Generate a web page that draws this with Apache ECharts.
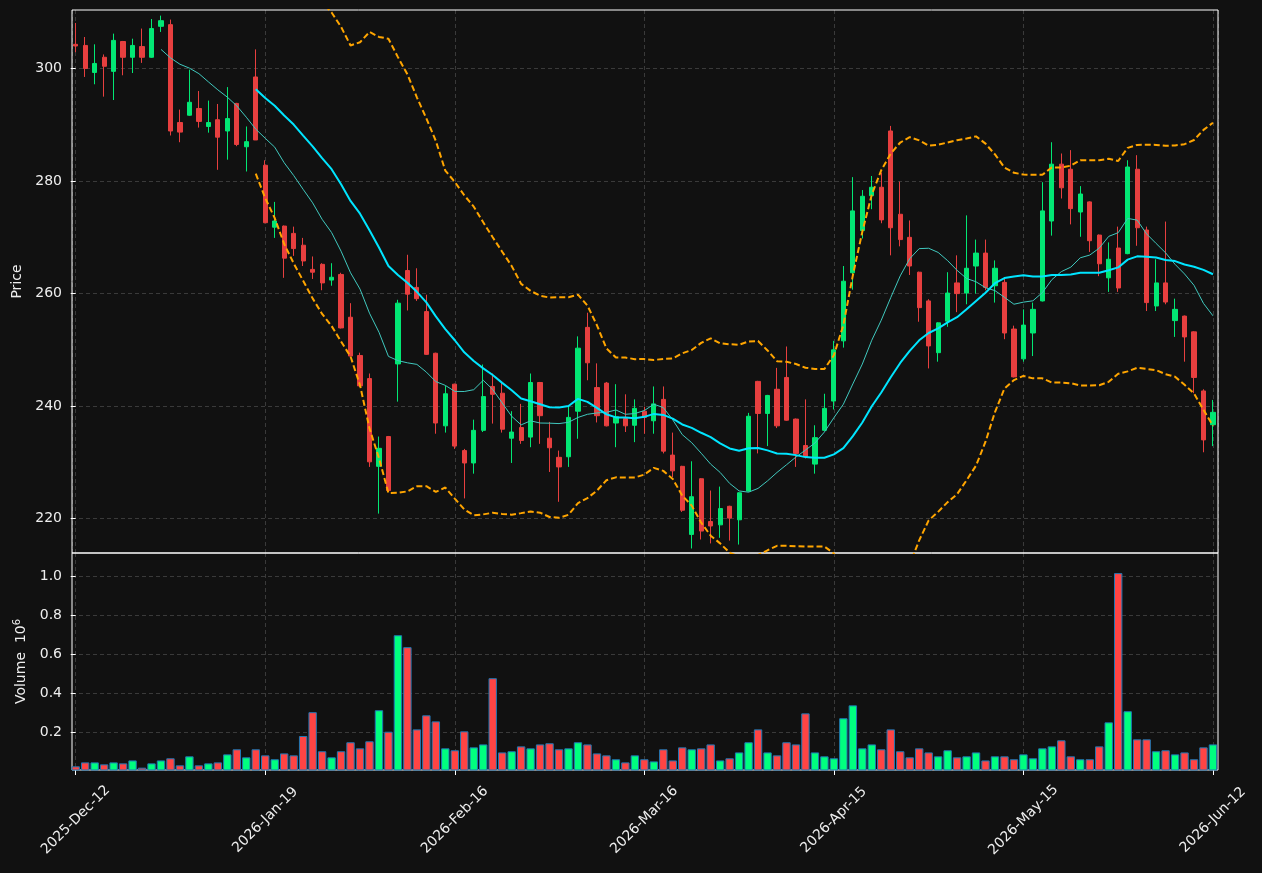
<!DOCTYPE html>
<html><head><meta charset="utf-8">
<script src="https://cdn.jsdelivr.net/npm/echarts@6/dist/echarts.min.js"></script>
<style>html,body{margin:0;padding:0;background:#111111;}#chart{width:1262px;height:873px;}</style>
</head><body><div id="chart"></div>
<script>
// x tick positions (candle index) and their labels
const tickIndex = [0, 20, 40, 60, 80, 100, 120];
const tickLabels = ['2025-Dec-12', '2026-Jan-19', '2026-Feb-16', '2026-Mar-16', '2026-Apr-15', '2026-May-15', '2026-Jun-12'];
const priceTicks = [220, 240, 260, 280, 300];
const volumeTicks = [200000, 400000, 600000, 800000, 1000000];

const opens = [
  304.3, 304.1, 299.3, 302.0, 299.5, 304.8, 302.0, 303.9, 302.0, 307.5,
  307.8, 290.4, 291.7, 292.9, 289.7, 290.9, 288.9, 293.8, 286.1, 298.5,
  282.8, 271.8, 272.0, 270.7, 268.6, 264.3, 265.2, 262.4, 263.4, 255.8,
  249.0, 244.9, 229.3, 234.6, 247.5, 264.1, 261.1, 256.8, 249.4, 236.5,
  243.9, 232.1, 229.9, 235.7, 243.5, 242.3, 234.3, 236.2, 234.5, 244.2,
  234.3, 230.9, 231.0, 239.1, 254.0, 243.3, 244.1, 237.0, 237.8, 236.6,
  239.1, 237.4, 241.2, 231.3, 229.3, 217.2, 227.1, 219.5, 218.9, 222.2,
  219.8, 224.9, 244.4, 238.7, 243.0, 245.1, 237.7, 233.0, 229.7, 235.7,
  240.9, 251.6, 263.7, 271.2, 277.4, 278.9, 288.9, 274.1, 270.0, 263.8,
  258.7, 249.5, 255.1, 261.9, 260.1, 264.9, 267.2, 261.4, 262.0, 253.7,
  248.4, 253.0, 258.7, 272.9, 283.0, 282.1, 274.5, 276.3, 270.4, 262.8,
  268.1, 267.1, 282.1, 271.3, 257.8, 261.9, 255.2, 256.0, 253.2, 242.7,
  236.7
];
const highs = [
  308.1, 305.6, 304.3, 302.5, 306.2, 304.9, 305.3, 307.1, 308.8, 309.4,
  308.7, 292.7, 299.8, 296.0, 294.3, 293.7, 296.7, 293.9, 289.7, 303.4,
  283.7, 276.3, 272.1, 271.9, 269.9, 266.6, 265.4, 265.4, 263.7, 258.3,
  249.5, 245.8, 234.6, 234.7, 258.9, 266.9, 264.5, 259.8, 249.5, 243.6,
  244.0, 232.4, 237.6, 247.4, 245.8, 244.1, 239.1, 240.4, 245.8, 244.3,
  237.2, 232.1, 240.1, 252.4, 256.6, 247.6, 244.3, 243.9, 242.1, 241.2,
  239.9, 243.5, 243.5, 235.3, 229.4, 230.2, 227.2, 225.0, 225.7, 222.3,
  224.7, 238.8, 244.5, 242.0, 246.8, 250.6, 237.8, 241.2, 236.6, 242.2,
  251.6, 264.9, 280.7, 278.4, 280.9, 281.5, 289.8, 279.9, 273.0, 263.9,
  259.0, 254.9, 263.8, 266.8, 273.9, 269.6, 269.6, 265.9, 262.7, 254.3,
  257.2, 258.4, 279.8, 286.9, 284.9, 285.5, 279.1, 276.4, 270.5, 269.1,
  271.9, 283.7, 284.6, 271.9, 266.1, 272.8, 259.1, 256.1, 253.3, 243.0,
  241.1
];
const lows = [
  302.9, 298.5, 297.2, 295.0, 294.4, 298.8, 299.2, 301.0, 301.9, 306.5,
  288.1, 286.9, 291.6, 289.5, 288.6, 282.0, 283.8, 286.2, 281.7, 287.3,
  272.5, 269.9, 262.8, 266.7, 264.9, 262.6, 260.6, 261.4, 253.8, 248.8,
  243.4, 229.2, 220.9, 224.9, 240.8, 257.0, 258.7, 249.1, 235.1, 235.3,
  232.4, 223.6, 228.0, 235.4, 236.9, 235.3, 229.9, 233.3, 232.7, 233.3,
  228.3, 223.0, 229.2, 234.2, 244.6, 237.1, 236.4, 232.7, 235.4, 233.6,
  235.1, 235.1, 231.6, 227.4, 221.2, 214.7, 216.3, 215.6, 216.6, 216.1,
  215.4, 224.8, 231.6, 232.9, 236.1, 237.4, 229.2, 230.7, 228.0, 235.6,
  239.4, 250.4, 260.7, 269.8, 275.0, 272.5, 266.8, 268.4, 263.3, 255.0,
  246.7, 247.9, 254.1, 256.7, 258.1, 260.0, 260.6, 258.4, 251.9, 245.1,
  247.9, 248.9, 258.6, 270.3, 276.9, 272.3, 270.1, 267.4, 263.1, 260.3,
  260.3, 267.0, 268.5, 256.9, 256.9, 258.1, 252.3, 247.9, 242.3, 231.8,
  232.9
];
const closes = [
  304.0, 300.0, 300.9, 300.4, 305.0, 302.0, 304.1, 302.0, 307.1, 308.5,
  288.9, 288.7, 294.0, 290.6, 290.4, 287.8, 291.1, 286.5, 287.0, 287.3,
  272.6, 272.9, 266.3, 268.0, 265.8, 263.8, 261.9, 262.9, 253.9, 248.9,
  243.6, 230.1, 232.5, 225.0, 258.3, 259.9, 259.1, 249.2, 237.0, 242.2,
  232.9, 229.9, 235.7, 241.7, 242.1, 235.9, 235.4, 233.9, 244.2, 238.3,
  232.6, 229.2, 238.0, 250.3, 247.7, 238.3, 236.5, 238.1, 236.5, 239.6,
  238.0, 240.4, 232.0, 228.5, 221.5, 223.9, 217.8, 218.7, 221.8, 220.1,
  224.6, 238.2, 238.7, 241.9, 236.5, 237.5, 231.6, 231.0, 234.4, 239.6,
  250.0, 262.2, 274.7, 277.3, 278.9, 273.1, 271.7, 269.6, 264.9, 257.5,
  250.7, 254.8, 260.1, 260.0, 264.5, 267.2, 261.1, 264.5, 253.0, 245.2,
  254.4, 257.2, 274.7, 283.0, 278.8, 275.1, 277.7, 269.4, 265.3, 266.1,
  261.0, 282.5, 271.7, 258.4, 261.9, 258.5, 257.2, 252.3, 245.1, 234.0,
  238.9
];
const volumes = [
  26000, 46000, 46000, 36000, 46000, 41000, 56000, 19000, 41000, 56000,
  67000, 31000, 77000, 31000, 41000, 46000, 87000, 113000, 72000, 113000,
  82000, 62000, 92000, 82000, 181000, 303000, 103000, 72000, 103000, 149000,
  118000, 154000, 313000, 203000, 697000, 636000, 215000, 287000, 256000, 118000,
  108000, 205000, 123000, 138000, 477000, 97000, 103000, 128000, 118000, 138000,
  144000, 113000, 118000, 149000, 138000, 92000, 82000, 62000, 46000, 82000,
  62000, 51000, 113000, 56000, 123000, 113000, 118000, 138000, 56000, 67000,
  97000, 149000, 215000, 97000, 82000, 149000, 138000, 297000, 97000, 77000,
  67000, 272000, 338000, 118000, 138000, 113000, 215000, 103000, 72000, 118000,
  97000, 77000, 108000, 72000, 77000, 97000, 56000, 77000, 77000, 62000,
  87000, 67000, 118000, 128000, 159000, 77000, 62000, 62000, 128000, 251000,
  1015000, 308000, 164000, 164000, 103000, 108000, 87000, 97000, 62000, 123000,
  138000
];

// indicators derived from the closes (moving averages and Bollinger bands)
function movingAverage(values, n) {
  const out = [];
  for (let i = n - 1; i < values.length; i++) {
    let s = 0;
    for (let j = i - n + 1; j <= i; j++) s += values[j];
    out.push([i, s / n]);
  }
  return out;
}
function bollinger(values, n, k) {
  const upper = [], lower = [];
  for (let i = n - 1; i < values.length; i++) {
    let s = 0;
    for (let j = i - n + 1; j <= i; j++) s += values[j];
    const m = s / n;
    let v = 0;
    for (let j = i - n + 1; j <= i; j++) v += (values[j] - m) * (values[j] - m);
    const sd = Math.sqrt(v / n);
    upper.push([i, m + k * sd]);
    lower.push([i, m - k * sd]);
  }
  return { upper, lower };
}

const ma10 = movingAverage(closes, 10);
const ma20 = movingAverage(closes, 20);
const bb = bollinger(closes, 20, 2);

const UP = '#02e774', DOWN = '#e73f3f';
const VUP = '#00ff7f', VDOWN = '#ff4444';
const FONT = 'DejaVu Sans';
const TXT = '#eeeeee';
const gridLine = { show: true, lineStyle: { color: '#3a3a3a', width: 1, type: [4, 3] } };

const candleData = closes.map((c, i) => [i, opens[i], c, lows[i], highs[i]]);
const volumeData = volumes.map((v, i) => ({
  value: [i, v],
  itemStyle: { color: closes[i] >= opens[i] ? VUP : VDOWN }
}));

const chart = echarts.init(document.getElementById('chart'), null, { renderer: 'canvas' });
chart.setOption({
  backgroundColor: '#111111',
  animation: false,
  textStyle: { fontFamily: FONT },
  grid: [
    { left: 72, width: 1146, top: 10, height: 543, show: true, z: 1, outerBoundsMode: 'none', containLabel: false,
      borderColor: '#ffffff', borderWidth: 1, backgroundColor: 'transparent' },
    { left: 72, width: 1146, top: 553, height: 217, show: true, z: 1, outerBoundsMode: 'none', containLabel: false,
      borderColor: '#ffffff', borderWidth: 1, backgroundColor: 'transparent' }
  ],
  xAxis: [
    { type: 'value', gridIndex: 0, min: -0.39, max: 120.53,
      axisLine: { show: false }, axisTick: { show: false }, axisLabel: { show: false }, splitLine: gridLine },
    { type: 'value', gridIndex: 1, min: -0.39, max: 120.53,
      axisLine: { show: false },
      axisTick: { show: true, customValues: tickIndex, length: 5, lineStyle: { color: '#ffffff' } },
      axisLabel: { customValues: tickIndex,
        formatter: v => { const k = tickIndex.indexOf(Math.round(v)); return k >= 0 ? tickLabels[k] : ''; },
        rotate: 45, align: 'center', verticalAlign: 'middle', margin: 50,
        color: TXT, fontSize: 14, fontFamily: FONT },
      splitLine: gridLine }
  ],
  yAxis: [
    { type: 'value', gridIndex: 0, min: 213.9, max: 310.4,
      name: 'Price', nameLocation: 'middle', nameGap: 44,
      nameTextStyle: { color: TXT, fontSize: 14, fontFamily: FONT },
      axisLine: { show: false },
      axisTick: { show: true, customValues: priceTicks, length: 5, lineStyle: { color: '#ffffff' } },
      axisLabel: { customValues: priceTicks, color: TXT, fontSize: 14, fontFamily: FONT, margin: 10 },
      splitLine: gridLine },
    { type: 'value', gridIndex: 1, min: 7000, max: 1118000,
      name: '{a|Volume  10}{s|6}', nameLocation: 'middle', nameGap: 42,
      nameTextStyle: { color: TXT, fontSize: 14, fontFamily: FONT,
        rich: { a: { color: TXT, fontSize: 14, fontFamily: FONT, lineHeight: 18 },
                s: { color: TXT, fontSize: 10, fontFamily: FONT, verticalAlign: 'top', lineHeight: 18 } } },
      axisLine: { show: false },
      axisTick: { show: true, customValues: volumeTicks, length: 5, lineStyle: { color: '#ffffff' } },
      axisLabel: { customValues: volumeTicks, color: TXT, fontSize: 14, fontFamily: FONT, margin: 10,
        formatter: v => (v / 1e6).toFixed(1) },
      splitLine: gridLine }
  ],
  series: [
    { type: 'candlestick', name: 'OHLC', xAxisIndex: 0, yAxisIndex: 0, z: 2,
      barWidth: 4.7, data: candleData, encode: { x: 0, y: [1, 2, 3, 4] },
      itemStyle: { color: UP, color0: DOWN, borderColor: UP, borderColor0: DOWN, borderWidth: 1 } },
    { type: 'line', name: 'MA10', xAxisIndex: 0, yAxisIndex: 0, z: 3, data: ma10, showSymbol: false, symbol: 'none',
      lineStyle: { color: '#40c8be', width: 1 } },
    { type: 'line', name: 'MA20', xAxisIndex: 0, yAxisIndex: 0, z: 3, data: ma20, showSymbol: false, symbol: 'none',
      lineStyle: { color: '#00e5ff', width: 2 } },
    { type: 'line', name: 'BB upper', xAxisIndex: 0, yAxisIndex: 0, z: 3, data: bb.upper, showSymbol: false, symbol: 'none',
      lineStyle: { color: '#ffa500', width: 2, type: [6, 3] } },
    { type: 'line', name: 'BB lower', xAxisIndex: 0, yAxisIndex: 0, z: 3, data: bb.lower, showSymbol: false, symbol: 'none',
      lineStyle: { color: '#ffa500', width: 2, type: [6, 3] } },
    { type: 'bar', name: 'Volume', xAxisIndex: 1, yAxisIndex: 1, z: 2, barWidth: 8.4,
      data: volumeData, itemStyle: { borderColor: '#1f77b4', borderWidth: 1 } }
  ]
});
</script>
</body></html>
